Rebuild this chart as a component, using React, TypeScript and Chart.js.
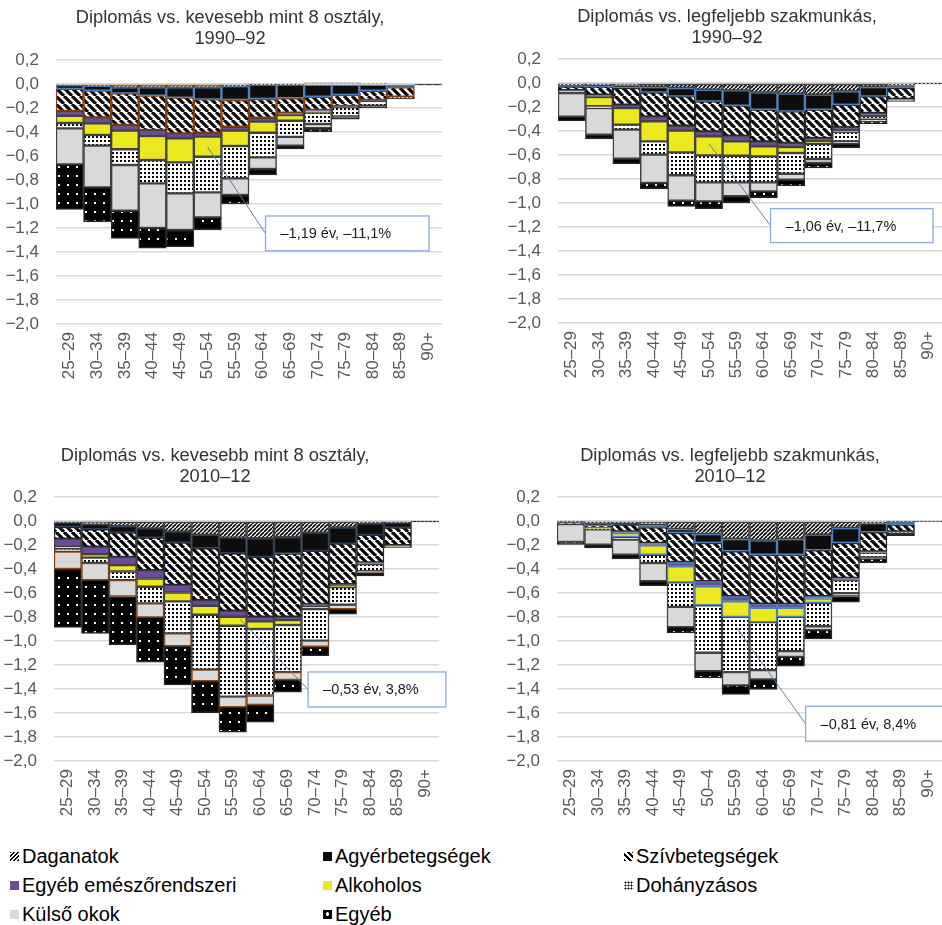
import React, { useEffect, useRef } from "react";
import { Chart, registerables } from "chart.js";

Chart.register(...registerables);

// ---------- data ----------
const ageGroups = ["25–29", "30–34", "35–39", "40–44", "45–49", "50–54", "55–59", "60–64", "65–69", "70–74", "75–79", "80–84", "85–89", "90+"];
const ageGroupsD = ["25–29", "30–34", "35–39", "40–44", "45–49", "50–4", "55–59", "60–64", "65–69", "70–74", "75–79", "80–84", "85–89", "90+"];

const seriesNames = ["Daganatok", "Agyérbetegségek", "Szívbetegségek", "Egyéb emészőrendszeri", "Alkoholos", "Dohányzásos", "Külső okok", "Egyéb"];

const yMin = -2.0;
const yMax = 0.2;
const yStep = 0.2;

// Chart A: Diplomás vs. kevesebb mint 8 osztály, 1990–92
const dagA = [-0.01, -0.015, -0.028, -0.028, -0.028, -0.028, -0.017, -0.005, -0.005, 0.01, 0.01, 0.008, 0, 0];
const agyA = [-0.03, -0.04, -0.05, -0.069, -0.086, -0.1, -0.116, -0.12, -0.114, -0.106, -0.092, -0.056, -0.028, -0.005];
const szivA = [-0.185, -0.223, -0.264, -0.286, -0.297, -0.278, -0.223, -0.156, -0.12, -0.111, -0.091, -0.077, -0.078, -0.005];
const emA = [-0.04, -0.05, -0.047, -0.05, -0.042, -0.033, -0.033, -0.033, -0.019, -0.008, -0.005, -0.005, -0.002, 0];
const alkA = [-0.06, -0.097, -0.155, -0.2, -0.2, -0.167, -0.128, -0.092, -0.048, -0.014, -0.005, -0.003, -0.002, 0];
const dohA = [-0.045, -0.089, -0.131, -0.195, -0.258, -0.297, -0.269, -0.205, -0.134, -0.094, -0.077, -0.04, -0.005, 0];
const kulA = [-0.3, -0.347, -0.381, -0.372, -0.306, -0.208, -0.139, -0.097, -0.074, -0.036, -0.01, -0.006, -0.003, 0];
const egyA = [-0.375, -0.286, -0.23, -0.169, -0.139, -0.106, -0.075, -0.05, -0.028, -0.028, -0.014, -0.013, -0.007, 0];

// Chart B: Diplomás vs. legfeljebb szakmunkás, 1990–92
const dagB = [-0.02, -0.015, -0.015, -0.033, -0.042, -0.056, -0.061, -0.078, -0.089, -0.097, -0.069, -0.033, -0.017, -0.003];
const agyB = [-0.01, -0.015, -0.027, -0.045, -0.069, -0.097, -0.128, -0.144, -0.147, -0.125, -0.112, -0.078, -0.025, -0.002];
const szivB = [-0.03, -0.067, -0.139, -0.2, -0.245, -0.25, -0.25, -0.264, -0.264, -0.236, -0.188, -0.139, -0.091, -0.002];
const emB = [-0.005, -0.02, -0.027, -0.041, -0.041, -0.041, -0.047, -0.042, -0.033, -0.028, -0.028, -0.022, -0.003, 0];
const alkB = [-0.015, -0.077, -0.139, -0.167, -0.181, -0.159, -0.12, -0.083, -0.05, -0.02, -0.009, -0.003, -0.002, 0];
const dohB = [-0.005, -0.014, -0.042, -0.111, -0.191, -0.225, -0.222, -0.217, -0.173, -0.127, -0.08, -0.031, -0.005, 0];
const kulB = [-0.195, -0.223, -0.242, -0.236, -0.212, -0.158, -0.116, -0.075, -0.05, -0.034, -0.02, -0.016, -0.004, 0];
const egyB = [-0.035, -0.036, -0.041, -0.05, -0.047, -0.061, -0.056, -0.055, -0.05, -0.041, -0.036, -0.017, -0.006, 0];

// Chart C: Diplomás vs. kevesebb mint 8 osztály, 2010–12
const dagC = [-0.014, -0.028, -0.042, -0.061, -0.089, -0.116, -0.139, -0.144, -0.133, -0.097, -0.055, -0.022, -0.014, -0.002];
const agyC = [-0.036, -0.041, -0.055, -0.078, -0.091, -0.111, -0.13, -0.155, -0.138, -0.152, -0.133, -0.094, -0.041, -0.003];
const szivC = [-0.097, -0.144, -0.202, -0.271, -0.352, -0.432, -0.479, -0.499, -0.527, -0.444, -0.338, -0.23, -0.147, -0.003];
const emC = [-0.066, -0.064, -0.069, -0.069, -0.064, -0.047, -0.05, -0.039, -0.027, -0.013, -0.015, -0.008, -0.005, 0];
const alkC = [-0.017, -0.028, -0.053, -0.069, -0.074, -0.075, -0.075, -0.063, -0.042, -0.028, -0.01, -0.005, -0.003, 0];
const dohC = [-0.025, -0.045, -0.072, -0.139, -0.266, -0.457, -0.59, -0.554, -0.393, -0.263, -0.147, -0.06, -0.005, 0];
const kulC = [-0.145, -0.143, -0.136, -0.116, -0.108, -0.097, -0.088, -0.078, -0.064, -0.05, -0.036, -0.01, -0.005, 0];
const egyC = [-0.486, -0.443, -0.404, -0.374, -0.322, -0.263, -0.208, -0.144, -0.103, -0.075, -0.042, -0.028, -0.003, 0];

// Chart D: Diplomás vs. legfeljebb szakmunkás, 2010–12
const dagD = [-0.005, -0.02, -0.022, -0.03, -0.067, -0.108, -0.15, -0.161, -0.15, -0.114, -0.058, -0.017, -0.005, -0.002];
const agyD = [-0.015, -0.02, -0.008, -0.023, -0.033, -0.075, -0.102, -0.119, -0.13, -0.13, -0.125, -0.077, -0.025, 0];
const szivD = [-0.005, -0.01, -0.056, -0.13, -0.242, -0.319, -0.375, -0.408, -0.411, -0.383, -0.291, -0.159, -0.056, 0];
const emD = [0, -0.005, -0.014, -0.02, -0.036, -0.042, -0.042, -0.036, -0.033, -0.019, -0.014, -0.008, -0.002, 0];
const alkD = [0, -0.01, -0.033, -0.078, -0.133, -0.158, -0.13, -0.119, -0.075, -0.036, -0.005, -0.003, -0.002, 0];
const dohD = [0, -0.005, -0.022, -0.069, -0.205, -0.396, -0.46, -0.4, -0.286, -0.195, -0.108, -0.039, -0.005, 0];
const kulD = [-0.15, -0.127, -0.125, -0.152, -0.169, -0.153, -0.111, -0.077, -0.047, -0.033, -0.028, -0.01, -0.005, 0];
const egyD = [-0.02, -0.028, -0.037, -0.036, -0.047, -0.056, -0.075, -0.084, -0.077, -0.072, -0.048, -0.037, -0.022, 0];

const titlesA = ["Diplomás vs. kevesebb mint 8 osztály,", "1990–92"];
const titlesB = ["Diplomás vs. legfeljebb szakmunkás,", "1990–92"];
const titlesC = ["Diplomás vs. kevesebb mint 8 osztály,", "2010–12"];
const titlesD = ["Diplomás vs. legfeljebb szakmunkás,", "2010–12"];

// callouts: anchor (category index, value) and box (category index range, value range)
const calloutA = { text: "–1,19 év, –11,1%", ax: 5, ay: -0.525, x0: 7.1, x1: 13.03, y0: -1.1, y1: -1.39 };
const calloutB = { text: "–1,06 év, –11,7%", ax: 5, ay: -0.505, x0: 7.25, x1: 13.17, y0: -1.047, y1: -1.33 };
const calloutC = { text: "–0,53 év, 3,8%", ax: 6.26, ay: -0.817, x0: 8.74, x1: 13.75, y0: -1.258, y1: -1.55 };
const calloutD = { text: "–0,81 év, 8,4%", ax: 6.03, ay: -0.888, x0: 8.54, x1: 15, y0: -1.544, y1: -1.835 };

// ---------- styles ----------
const FONT = '"Liberation Sans", Arial, Helvetica, sans-serif';

function makeTile(size: number, draw: (g: CanvasRenderingContext2D) => void): CanvasPattern | string {
  const c = document.createElement("canvas");
  c.width = size;
  c.height = size;
  const g = c.getContext("2d");
  if (!g) return "#888";
  draw(g);
  const p = g.createPattern(c, "repeat");
  return p || "#888";
}

function stripes(size: number, width: number, back: boolean) {
  return makeTile(size, (g) => {
    g.fillStyle = "#fff";
    g.fillRect(0, 0, size, size);
    g.strokeStyle = "#000";
    g.lineWidth = width;
    g.beginPath();
    for (const o of [-size, 0, size]) {
      if (back) {
        g.moveTo(o, 0);
        g.lineTo(o + size, size);
      } else {
        g.moveTo(o, size);
        g.lineTo(o + size, 0);
      }
    }
    g.stroke();
  });
}

function makeFills() {
  const dag = stripes(4, 1.6, false);
  const agy = "#0d0d0d";
  const sziv = stripes(8, 3.2, true);
  const em = "#6b4c9a";
  const alk = "#ebe820";
  const doh = makeTile(4, (g) => {
    g.fillStyle = "#fff";
    g.fillRect(0, 0, 4, 4);
    g.fillStyle = "#000";
    g.fillRect(0, 0, 2, 2);
  });
  const kul = "#d9d9d9";
  const egy = makeTile(9, (g) => {
    g.fillStyle = "#000";
    g.fillRect(0, 0, 9, 9);
    g.fillStyle = "#fff";
    g.fillRect(4, 4, 2, 2);
  });
  return [dag, agy, sziv, em, alk, doh, kul, egy];
}

const bordersA = ["#7a3b10", "#4f81bd", "#843c0c", "#404040", "#404040", "#404040", "#404040", "#262626"];
const bordersB = ["#404040", "#4f81bd", "#262626", "#404040", "#404040", "#404040", "#404040", "#262626"];
const bordersC = ["#404040", "#2f3f55", "#262626", "#404040", "#404040", "#404040", "#8b4513", "#262626"];
const bordersD = ["#404040", "#4f81bd", "#262626", "#4f81bd", "#4f81bd", "#404040", "#404040", "#262626"];

function fmtTick(v: number | string) {
  const n = Number(v);
  if (Math.abs(n) < 1e-9) return "0,0";
  const s = Math.abs(n).toFixed(1).replace(".", ",");
  return n < 0 ? "−" + s : s;
}

type Callout = { text: string; ax: number; ay: number; x0: number; x1: number; y0: number; y1: number };

type PanelProps = {
  left: number;
  top: number;
  width: number;
  height: number;
  labels: string[];
  series: number[][];
  borders: string[];
  padTop: number;
  padRight: number;
  yWidth: number;
  xHeight: number;
  callout: Callout;
  titles: string[];
  titleCenter: number;
  titleTop: number;
};

function Panel(p: PanelProps) {
  const ref = useRef<HTMLCanvasElement | null>(null);
  useEffect(() => {
    if (!ref.current) return;
    const fills = makeFills();
    const co = p.callout;
    const calloutPlugin = {
      id: "callout",
      afterDraw(chart: any) {
        const xs = chart.scales.x;
        const ys = chart.scales.y;
        const ctx = chart.ctx as CanvasRenderingContext2D;
        const ax = xs.getPixelForValue(co.ax);
        const ay = ys.getPixelForValue(co.ay);
        const bx0 = xs.getPixelForValue(co.x0);
        const bx1 = xs.getPixelForValue(co.x1);
        const by0 = ys.getPixelForValue(co.y0);
        const by1 = ys.getPixelForValue(co.y1);
        const my = (by0 + by1) / 2;
        ctx.save();
        ctx.strokeStyle = "#5b80b0";
        ctx.lineWidth = 1;
        ctx.beginPath();
        ctx.moveTo(ax, ay);
        ctx.lineTo(bx0, my);
        ctx.stroke();
        ctx.fillStyle = "#ffffff";
        ctx.fillRect(bx0, by0, bx1 - bx0, by1 - by0);
        ctx.strokeStyle = "#8faadc";
        ctx.lineWidth = 1.3;
        ctx.strokeRect(bx0, by0, bx1 - bx0, by1 - by0);
        ctx.fillStyle = "#1a1a1a";
        ctx.font = "14.5px " + FONT;
        ctx.textBaseline = "middle";
        ctx.textAlign = "left";
        ctx.fillText(co.text, bx0 + 15, my + 1);
        ctx.restore();
      },
    };
    const chart = new Chart(ref.current, {
      type: "bar",
      data: {
        labels: p.labels,
        datasets: seriesNames.map((name, i) => ({
          label: name,
          data: p.series[i],
          backgroundColor: fills[i] as any,
          borderColor: p.borders[i],
          borderWidth: 1.5,
          borderSkipped: false,
          barPercentage: 1,
          categoryPercentage: 1,
          stack: "s",
        })),
      },
      options: {
        responsive: true,
        maintainAspectRatio: false,
        animation: false,
        events: [],
        layout: { padding: { top: p.padTop, right: p.padRight, left: 0, bottom: 0 } },
        plugins: {
          legend: { display: false },
          title: { display: false },
          tooltip: { enabled: false },
        },
        scales: {
          x: {
            stacked: true,
            grid: { display: false, drawTicks: false },
            border: { display: false },
            ticks: {
              autoSkip: false,
              minRotation: 90,
              maxRotation: 90,
              padding: 8,
              color: "#595959",
              font: { family: FONT, size: 17 },
            },
            afterFit: (s: any) => {
              s.height = p.xHeight;
              s.paddingLeft = 0;
              s.paddingRight = 0;
            },
          },
          y: {
            stacked: true,
            min: yMin,
            max: yMax,
            grid: { color: "#d9d9d9", lineWidth: 1.5, drawTicks: false },
            border: { display: false },
            ticks: {
              stepSize: yStep,
              padding: 17,
              color: "#595959",
              font: { family: FONT, size: 17 },
              callback: (v: any) => fmtTick(v),
            },
            afterFit: (s: any) => {
              s.width = p.yWidth;
            },
          },
        },
      } as any,
      plugins: [calloutPlugin],
    });
    return () => chart.destroy();
  }, []);
  return (
    <>
      <div style={{ position: "absolute", left: p.left, top: p.top, width: p.width, height: p.height }}>
        <canvas ref={ref} />
      </div>
      <div
        style={{
          position: "absolute",
          left: p.titleCenter - 260,
          top: p.titleTop,
          width: 520,
          textAlign: "center",
          fontFamily: FONT,
          fontSize: 18.3,
          lineHeight: "21px",
          color: "#333333",
          pointerEvents: "none",
        }}
      >
        {p.titles.map((t, i) => (
          <div key={i}>{t}</div>
        ))}
      </div>
    </>
  );
}

const swatches: Record<string, React.CSSProperties> = {
  Daganatok: { background: "repeating-linear-gradient(-45deg, #000 0 1.6px, #fff 1.6px 3px)" },
  Agyérbetegségek: { background: "#0d0d0d" },
  Szívbetegségek: { background: "repeating-linear-gradient(45deg, #000 0 2px, #fff 2px 4px)" },
  "Egyéb emészőrendszeri": { background: "#6b4c9a" },
  Alkoholos: { background: "#ebe820" },
  Dohányzásos: { background: "radial-gradient(circle, #000 0 0.9px, #fff 1.1px)", backgroundSize: "3px 3px" },
  "Külső okok": { background: "#d9d9d9" },
  Egyéb: { background: "radial-gradient(circle at 50% 45%, #fff 0 1.5px, #000 2px)" },
};

const legendCols = [10, 323, 624];
const legendRows = [856, 885, 914];

function Legend() {
  return (
    <>
      {seriesNames.map((name, i) => {
        const col = i % 3;
        const row = Math.floor(i / 3);
        return (
          <div
            key={name}
            style={{
              position: "absolute",
              left: legendCols[col],
              top: legendRows[row] - 12,
              height: 24,
              display: "flex",
              alignItems: "center",
              fontFamily: FONT,
              fontSize: 20,
              color: "#000",
              whiteSpace: "nowrap",
            }}
          >
            <span style={{ display: "inline-block", width: 9, height: 9, marginRight: 3, ...swatches[name] }} />
            <span>{name}</span>
          </div>
        );
      })}
    </>
  );
}

export default function App() {
  return (
    <div
      style={{
        position: "absolute",
        left: 0,
        top: 0,
        width: 942,
        height: 925,
        overflow: "hidden",
        background: "#ffffff",
      }}
    >
      <Panel
        left={0} top={0} width={471} height={400}
        labels={ageGroups}
        series={[dagA, agyA, szivA, emA, alkA, dohA, kulA, egyA]}
        borders={bordersA}
        padTop={60} padRight={29} yWidth={56} xHeight={76}
        callout={calloutA}
        titles={titlesA} titleCenter={230} titleTop={6}
      />
      <Panel
        left={471} top={0} width={471} height={400}
        labels={ageGroups}
        series={[dagB, agyB, szivB, emB, alkB, dohB, kulB, egyB]}
        borders={bordersB}
        padTop={59} padRight={0} yWidth={87} xHeight={77}
        callout={calloutB}
        titles={titlesB} titleCenter={727} titleTop={5}
      />
      <Panel
        left={0} top={420} width={471} height={400}
        labels={ageGroups}
        series={[dagC, agyC, szivC, emC, alkC, dohC, kulC, egyC]}
        borders={bordersC}
        padTop={77} padRight={32} yWidth={54} xHeight={59}
        callout={calloutC}
        titles={titlesC} titleCenter={215} titleTop={444}
      />
      <Panel
        left={471} top={420} width={471} height={400}
        labels={ageGroupsD}
        series={[dagD, agyD, szivD, emD, alkD, dohD, kulD, egyD]}
        borders={bordersD}
        padTop={77} padRight={0} yWidth={86} xHeight={59}
        callout={calloutD}
        titles={titlesD} titleCenter={730} titleTop={444}
      />
      <Legend />
    </div>
  );
}
